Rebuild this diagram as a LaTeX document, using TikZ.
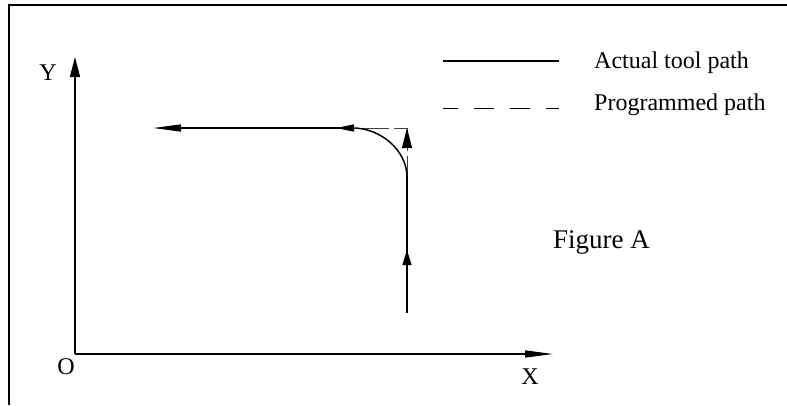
\documentclass[tikz,border=0pt]{standalone}
\usepackage{fontspec}
\setmainfont{Liberation Serif}
\usetikzlibrary{arrows.meta,decorations.markings}

\begin{document}
\begin{tikzpicture}[x=1pt,y=-1pt,
  ln/.style={line width=1.5pt},
  prog/.style={line width=1pt,black!75,dash pattern=on 36pt off 5pt},
  hx/.style={-{Triangle[length=28pt,width=7pt]}},
  vy/.style={-{Triangle[length=20pt,width=10pt]}},
  lab/.style={font=\fontsize{24}{28}\selectfont,inner sep=0pt},
  tipat/.style 2 args={postaction={decorate,decoration={markings,
    mark=at position #1 with {\arrow{Triangle[#2]}}}}}]
\useasboundingbox (0,0) rectangle (787,405);
% frame, cut at right and bottom
\draw[ln] (9,405) -- (9,5) -- (787,5);
% axes
\coordinate (O) at (75,354);
\coordinate (xend) at (553,354);
\coordinate (yend) at (75,57);
\draw[ln,hx] (O) -- (xend);
\draw[ln,vy] (O) -- (yend);
\node[lab] (olab) at (66,367) {O};
\node[lab] (xlab) at (530,377) {X};
\node[lab] (ylab) at (48,73) {Y};
% tool paths
\coordinate (start) at (407,313);
\coordinate (bend) at (407,177);
\coordinate (corner) at (407,128);
\coordinate (tipbase) at (407,147);
\coordinate (join) at (353,128);
\coordinate (stop) at (153,128);
\draw[prog] (join) -- (corner) -- (bend);
\draw[line width=1pt,vy] (tipbase) -- (corner);
\draw[ln,tipat={63pt}{length=15pt,width=9pt}] (start) -- (bend);
\draw[ln] (bend) .. controls (407,150) and (380,128) .. (join);
\draw[ln,hx,tipat={17pt}{length=18pt,width=7pt}] (join) -- (stop);
% legend
\coordinate (la) at (443,61);
\coordinate (lb) at (559,61);
\coordinate (pa) at (443,108);
\coordinate (pb) at (559,108);
\draw[ln] (la) -- (lb);
\draw[line width=1pt,dash pattern=on 20pt off 16pt,dash phase=5pt] (pa) -- (pb);
\node[lab,anchor=base west] (act) at (594,68) {Actual tool path};
\node[lab,anchor=base west] (pro) at (594,110) {Programmed path};
\node[lab,font=\fontsize{27}{32}\selectfont,anchor=base west] (fig) at (553,248) {Figure A};
\end{tikzpicture}
\end{document}
